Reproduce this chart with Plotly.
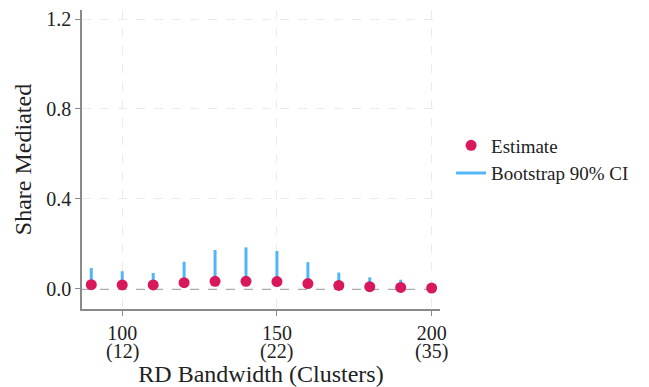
import plotly.graph_objects as go

bandwidth = [90, 100, 110, 120, 130, 140, 150, 160, 170, 180, 190, 200]
estimate = [0.019, 0.018, 0.018, 0.028, 0.034, 0.034, 0.033, 0.024, 0.016, 0.010, 0.007, 0.004]
ci_lower = [0.008, 0.008, 0.009, 0.012, 0.014, 0.014, 0.014, 0.011, 0.008, 0.004, 0.002, 0.000]
ci_upper = [0.093, 0.079, 0.071, 0.121, 0.173, 0.185, 0.169, 0.119, 0.073, 0.052, 0.041, 0.025]
x_tickvals = [100, 150, 200]
x_ticktext = ["100", "150", "200"]
x_clusters = ["(12)", "(22)", "(35)"]
y_tickvals = [0.0, 0.4, 0.8, 1.2]
y_ticktext = ["0.0", "0.4", "0.8", "1.2"]

FONT = "Liberation Serif"
DOT = "#D8175C"
BAR = "#52B5F6"
TXT = "#222222"

ci_x, ci_y = [], []
for xv, lo, hi in zip(bandwidth, ci_lower, ci_upper):
    ci_x += [xv, xv, None]
    ci_y += [lo, hi, None]

fig = go.Figure()
fig.add_trace(go.Scatter(
    x=ci_x, y=ci_y, mode="lines", name="Bootstrap 90% CI",
    line=dict(color=BAR, width=3), legendrank=2, hoverinfo="skip"))
fig.add_trace(go.Scatter(
    x=bandwidth, y=estimate, mode="markers", name="Estimate",
    marker=dict(color=DOT, size=11), legendrank=1))

fig.add_hline(y=0, line=dict(color="#AAAAAA", width=2, dash="dash"), layer="below")

for xv, lab in zip(x_tickvals, x_clusters):
    fig.add_annotation(x=xv, y=0, xref="x", yref="paper", text=lab,
                       showarrow=False, yanchor="middle", yshift=-42,
                       font=dict(family=FONT, size=20, color=TXT))

# page body has an 8px margin, so the figure is sized/offset to compensate
fig.update_layout(
    width=641, height=379,
    margin=dict(l=74, r=209, t=2, b=78),
    paper_bgcolor="white", plot_bgcolor="white",
    font=dict(family=FONT, size=20, color=TXT),
    showlegend=True,
    legend=dict(x=1.031, y=0.5, xanchor="left", yanchor="middle",
                font=dict(family=FONT, size=19, color=TXT),
                tracegroupgap=0, itemwidth=30),
    xaxis=dict(range=[87, 202.7], tickvals=x_tickvals, ticktext=x_ticktext,
               automargin=False,
               showline=True, linecolor="#8A8A8A", linewidth=1.5,
               ticks="outside", ticklen=5, tickcolor="#8A8A8A",
               showgrid=True, gridcolor="#EBEBEB", griddash="dash", gridwidth=1,
               zeroline=False,
               title=dict(text="RD Bandwidth (Clusters)", font=dict(size=24), standoff=23),
               tickfont=dict(size=20)),
    yaxis=dict(range=[-0.089, 1.24], tickvals=y_tickvals, ticktext=y_ticktext,
               automargin=False,
               showline=True, linecolor="#8A8A8A", linewidth=1.5,
               ticks="outside", ticklen=5, tickcolor="#8A8A8A",
               showgrid=True, gridcolor="#EBEBEB", griddash="dash", gridwidth=1,
               zeroline=False,
               title=dict(text="Share Mediated", font=dict(size=24), standoff=8),
               tickfont=dict(size=20)),
)

fig.write_html("out.html")
